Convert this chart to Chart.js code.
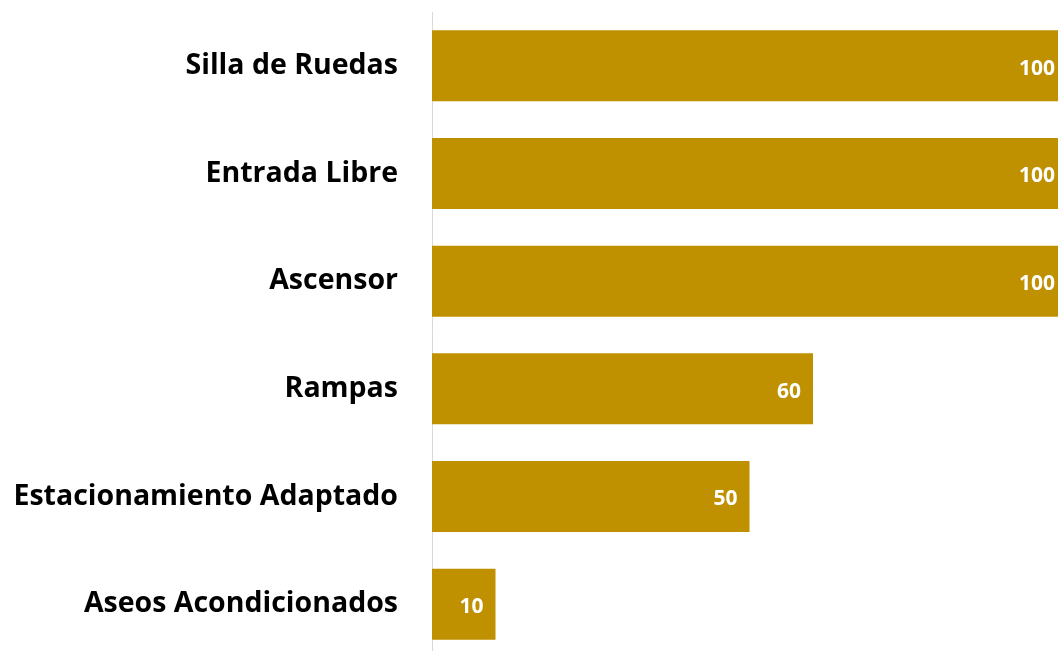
<!DOCTYPE html>
<html>
<head>
<meta charset="utf-8">
<script src="https://cdn.jsdelivr.net/npm/chart.js@4/dist/chart.umd.min.js"></script>
<style>
  html, body { margin: 0; padding: 0; background: #fff; }
  #wrap { width: 1058px; height: 651px; overflow: hidden; position: relative; }
  #chart { position: absolute; left: 0; top: 0; }
</style>
</head>
<body>
<div id="wrap"><canvas id="chart" width="1070" height="658"></canvas></div>
<script>
const categories = [
  'Silla de Ruedas',
  'Entrada Libre',
  'Ascensor',
  'Rampas',
  'Estacionamiento Adaptado',
  'Aseos Acondicionados'
];
const values = [100, 100, 100, 60, 50, 10];

const barColor = '#BF9000';

// value written inside the end of each bar
const barValues = {
  id: 'barValues',
  afterDatasetsDraw(chart) {
    const ctx = chart.ctx;
    const meta = chart.getDatasetMeta(0);
    ctx.save();
    ctx.fillStyle = '#ffffff';
    ctx.font = 'bold 21px "Open Sans"';
    ctx.textAlign = 'right';
    ctx.textBaseline = 'middle';
    meta.data.forEach((bar, i) => {
      ctx.fillText(String(values[i]), bar.x - 12, bar.y + 3);
    });
    ctx.restore();
  }
};

new Chart(document.getElementById('chart'), {
  type: 'bar',
  data: {
    labels: categories,
    datasets: [{
      data: values,
      backgroundColor: barColor,
      borderWidth: 0,
      barPercentage: 1,
      categoryPercentage: 0.66
    }]
  },
  options: {
    indexAxis: 'y',
    responsive: false,
    animation: false,
    layout: { padding: { top: 12, right: 3, bottom: 0, left: 0 } },
    plugins: {
      legend: { display: false },
      tooltip: { enabled: false }
    },
    scales: {
      x: {
        display: false,
        min: 0,
        max: 100
      },
      y: {
        grid: { display: false, drawTicks: false },
        border: { display: true, color: '#d9d9d9', width: 1 },
        ticks: {
          color: '#000000',
          font: { family: 'Open Sans', weight: 'bold', size: 28.5 },
          padding: 34
        },
        afterFit(scale) {
          // fixed label column; no extra space above/below the bars
          scale.width = 432;
          scale.paddingTop = 0;
          scale.paddingBottom = 0;
        }
      }
    }
  },
  plugins: [barValues]
});
</script>
</body>
</html>
